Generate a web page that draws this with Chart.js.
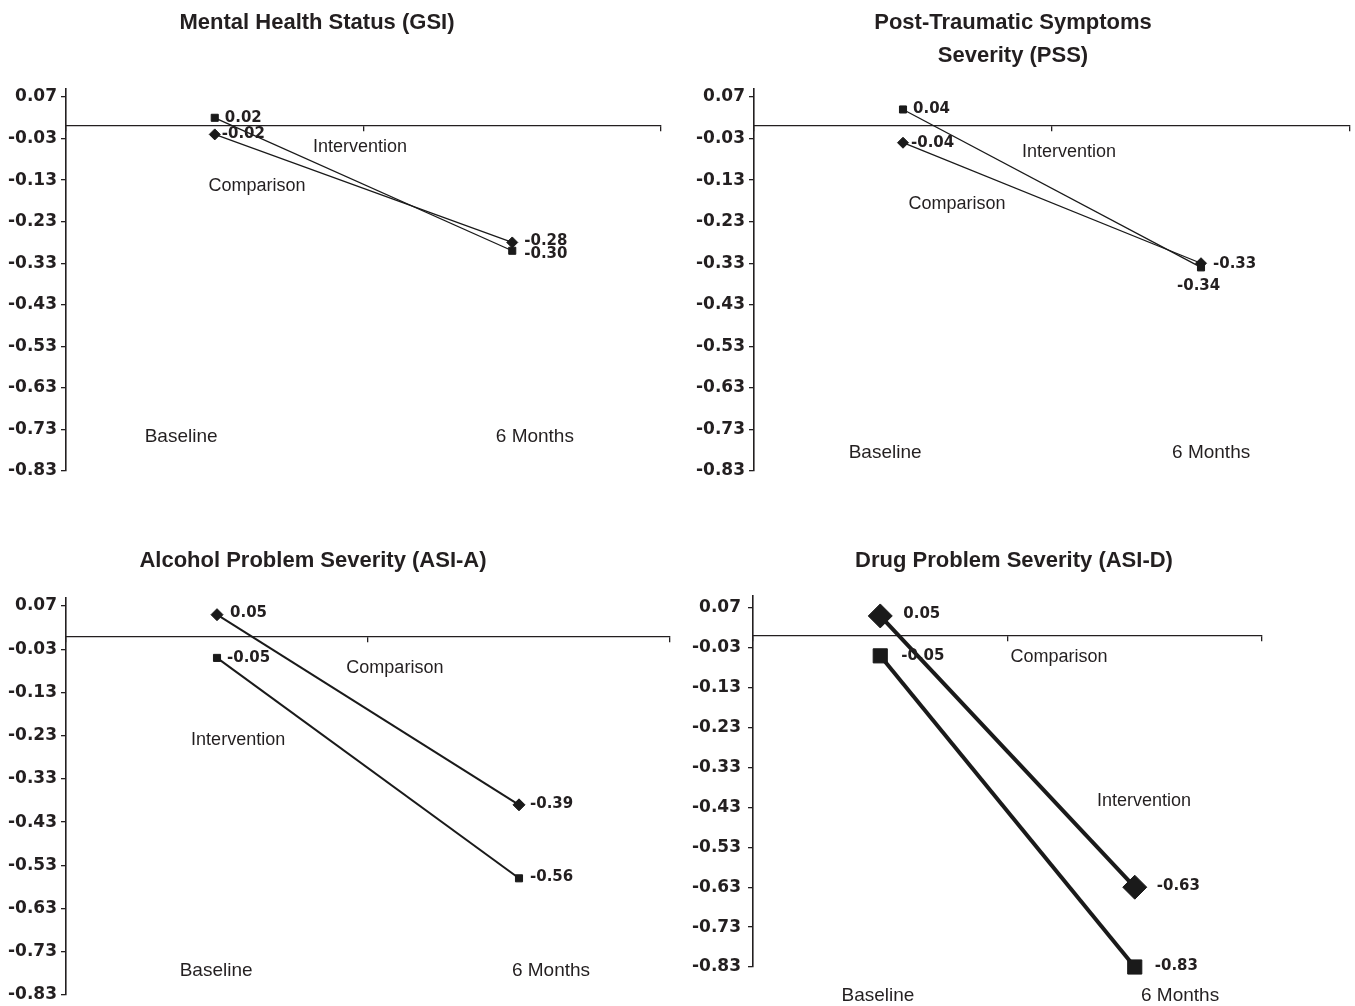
<!DOCTYPE html>
<html>
<head>
<meta charset="utf-8">
<script src="https://cdn.jsdelivr.net/npm/chart.js@4.4.0/dist/chart.umd.min.js"></script>
<style>
  html, body { margin: 0; padding: 0; background: #ffffff; overflow: hidden; width: 1355px; height: 1006px; }
  .panel { position: absolute; }
  canvas { display: block; }
</style>
</head>
<body>
<div class="panel" id="p0"><canvas id="c0"></canvas></div>
<div class="panel" id="p1"><canvas id="c1"></canvas></div>
<div class="panel" id="p2"><canvas id="c2"></canvas></div>
<div class="panel" id="p3"><canvas id="c3"></canvas></div>
<script>
// ---------------- DATA ----------------
const categories = ['Baseline', '6 Months'];
const seriesNames = ['Intervention', 'Comparison'];
const yTickValues = [0.07, -0.03, -0.13, -0.23, -0.33, -0.43, -0.53, -0.63, -0.73, -0.83];

const gsiTitle = 'Mental Health Status (GSI)';
const gsiIntervention = [0.02, -0.30];
const gsiComparison = [-0.02, -0.28];

const pssTitle = ['Post-Traumatic Symptoms', 'Severity (PSS)'];
const pssIntervention = [0.04, -0.34];
const pssComparison = [-0.04, -0.33];

const asiaTitle = 'Alcohol Problem Severity (ASI-A)';
const asiaIntervention = [-0.05, -0.56];
const asiaComparison = [0.05, -0.39];

const asidTitle = 'Drug Problem Severity (ASI-D)';
const asidIntervention = [-0.05, -0.83];
const asidComparison = [0.05, -0.63];

// ---------------- STYLE / LAYOUT ----------------
const LINE = '#1a1a1a';
const AX = '#231f20';
const TEXT = '#231f20';
const SANS = '"Liberation Sans", Arial, Helvetica, sans-serif';
const BOLDNUM = '"DejaVu Sans", "Liberation Sans", sans-serif';

const panels = [
  { canvas: 'c0', div: 'p0', title: gsiTitle, data: [gsiIntervention, gsiComparison],
    box: { left: -37, top: 0, width: 708, height: 501 }, yWidth: 103, rightWidth: 10, padBottom: 30,
    yMax: 0.09, titlePad: { top: 6, bottom: 49.7 }, lineW: 1.3, squareR: 5, diamondR: 5.5, tickPad: 4,
    valueOffsets: [[[10, 0], [12, 3]], [[7, 0], [12, -1]]],
    seriesPos: [[0.488, -0.0505], [0.142, -0.144]],
    catPos: [[-0.113, -0.748], [1.076, -0.748]] },
  { canvas: 'c1', div: 'p1', title: pssTitle, data: [pssIntervention, pssComparison],
    box: { left: 666, top: 0, width: 694, height: 501 }, yWidth: 88, rightWidth: 10, padBottom: 30,
    yMax: 0.09, titlePad: { top: 6, bottom: 16.7 }, lineW: 1.3, squareR: 5, diamondR: 5.5, tickPad: 4,
    valueOffsets: [[[10, 0], [-24, 19]], [[8, 0], [12, 1]]],
    seriesPos: [[0.557, -0.0626], [0.181, -0.188]],
    catPos: [[-0.060, -0.787], [1.034, -0.787]] },
  { canvas: 'c2', div: 'p2', title: asiaTitle, data: [asiaIntervention, asiaComparison],
    box: { left: -54, top: 520, width: 734, height: 505 }, yWidth: 120, rightWidth: 10, padBottom: 30,
    yMax: 0.09, titlePad: { top: 24, bottom: 20.4 }, lineW: 2, squareR: 5, diamondR: 6, tickPad: 4,
    valueOffsets: [[[10, 0], [11, -1]], [[13, -2], [11, -1]]],
    seriesPos: [[0.070, -0.241], [0.589, -0.074]],
    catPos: [[-0.003, -0.775], [1.106, -0.775]] },
  { canvas: 'c3', div: 'p3', title: asidTitle, data: [asidIntervention, asidComparison],
    box: { left: 680, top: 520, width: 668, height: 500 }, yWidth: 73, rightWidth: 86, padBottom: 53,
    yMax: 0.10, titlePad: { top: 24, bottom: 19 }, lineW: 4, squareR: 10, diamondR: 12, tickPad: 7,
    valueOffsets: [[[21, 0], [20, -1]], [[23, -2], [22, -1]]],
    seriesPos: [[1.036, -0.414], [0.702, -0.053]],
    catPos: [[-0.009, -0.902], [1.178, -0.902]] }
];

// ---------------- PLUGINS ----------------
const valueLabelPlugin = {
  id: 'valueLabels',
  afterDatasetsDraw(chart, args, opts) {
    const ctx = chart.ctx;
    ctx.save();
    ctx.font = 'bold 15px ' + BOLDNUM;
    ctx.fillStyle = TEXT;
    ctx.textAlign = 'left';
    ctx.textBaseline = 'middle';
    chart.data.datasets.forEach((ds, di) => {
      const meta = chart.getDatasetMeta(di);
      meta.data.forEach((pt, i) => {
        const off = opts.offsets[di][i];
        ctx.fillText(ds.data[i].toFixed(2), pt.x + off[0], pt.y + off[1]);
      });
    });
    ctx.restore();
  }
};

const freeTextPlugin = {
  id: 'freeText',
  afterDraw(chart, args, opts) {
    const ctx = chart.ctx;
    const xs = chart.scales.x, ys = chart.scales.y;
    ctx.save();
    ctx.fillStyle = TEXT;
    ctx.textAlign = 'center';
    ctx.textBaseline = 'middle';
    ctx.font = '18px ' + SANS;
    opts.series.forEach((p, i) => {
      ctx.fillText(seriesNames[i], xs.getPixelForValue(p[0]), ys.getPixelForValue(p[1]));
    });
    ctx.font = '19px ' + SANS;
    opts.cats.forEach((p, i) => {
      ctx.fillText(categories[i], xs.getPixelForValue(p[0]), ys.getPixelForValue(p[1]));
    });
    ctx.restore();
  }
};

// ---------------- BUILD ----------------
panels.forEach(p => {
  const div = document.getElementById(p.div);
  div.style.left = p.box.left + 'px';
  div.style.top = p.box.top + 'px';
  div.style.width = p.box.width + 'px';
  div.style.height = p.box.height + 'px';
  const cv = document.getElementById(p.canvas);
  cv.width = p.box.width;
  cv.height = p.box.height;
  cv.style.width = p.box.width + 'px';
  cv.style.height = p.box.height + 'px';

  const mkDs = (k, style, r) => ({
    label: seriesNames[k],
    data: p.data[k],
    borderColor: LINE,
    backgroundColor: LINE,
    borderWidth: p.lineW,
    pointStyle: style,
    pointRadius: r,
    pointHoverRadius: r,
    pointBackgroundColor: LINE,
    pointBorderColor: LINE,
    pointBorderWidth: 1,
    tension: 0,
    clip: false
  });

  new Chart(cv, {
    type: 'line',
    data: {
      labels: categories,
      datasets: [mkDs(0, 'rect', p.squareR), mkDs(1, 'rectRot', p.diamondR)]
    },
    options: {
      responsive: false,
      animation: false,
      events: [],
      devicePixelRatio: 1,
      layout: { padding: { left: 0, right: 0, top: 0, bottom: p.padBottom } },
      plugins: {
        legend: { display: false },
        tooltip: { enabled: false },
        title: {
          display: true,
          text: p.title,
          color: TEXT,
          font: { family: SANS, size: 22, weight: 'bold', lineHeight: 1.5 },
          padding: p.titlePad,
          fullSize: true
        },
        valueLabels: { offsets: p.valueOffsets },
        freeText: { series: p.seriesPos, cats: p.catPos }
      },
      scales: {
        x: {
          type: 'category',
          offset: true,
          position: { y: 0 },
          grid: { display: true, offset: true, drawOnChartArea: false, drawTicks: true, tickLength: 5, color: AX, lineWidth: 1.3 },
          border: { display: true, color: AX, width: 1.3 },
          ticks: { display: false }
        },
        y: {
          type: 'linear',
          position: 'left',
          min: -0.83,
          max: p.yMax,
          afterBuildTicks: s => { s.ticks = yTickValues.map(v => ({ value: v })); },
          afterFit: s => { s.width = p.yWidth; },
          grid: { display: true, drawOnChartArea: false, drawTicks: true, tickLength: 5, color: AX, lineWidth: 1.3 },
          border: { display: true, color: AX, width: 1.6 },
          ticks: {
            autoSkip: false,
            padding: p.tickPad,
            color: TEXT,
            font: { family: BOLDNUM, size: 17, weight: 'bold' },
            callback: v => Number(v).toFixed(2)
          }
        },
        yR: {
          type: 'linear',
          position: 'right',
          display: true,
          grid: { display: false },
          border: { display: false },
          ticks: { display: false },
          afterFit: s => { s.width = p.rightWidth; }
        }
      }
    },
    plugins: [valueLabelPlugin, freeTextPlugin]
  });
});
</script>
</body>
</html>
